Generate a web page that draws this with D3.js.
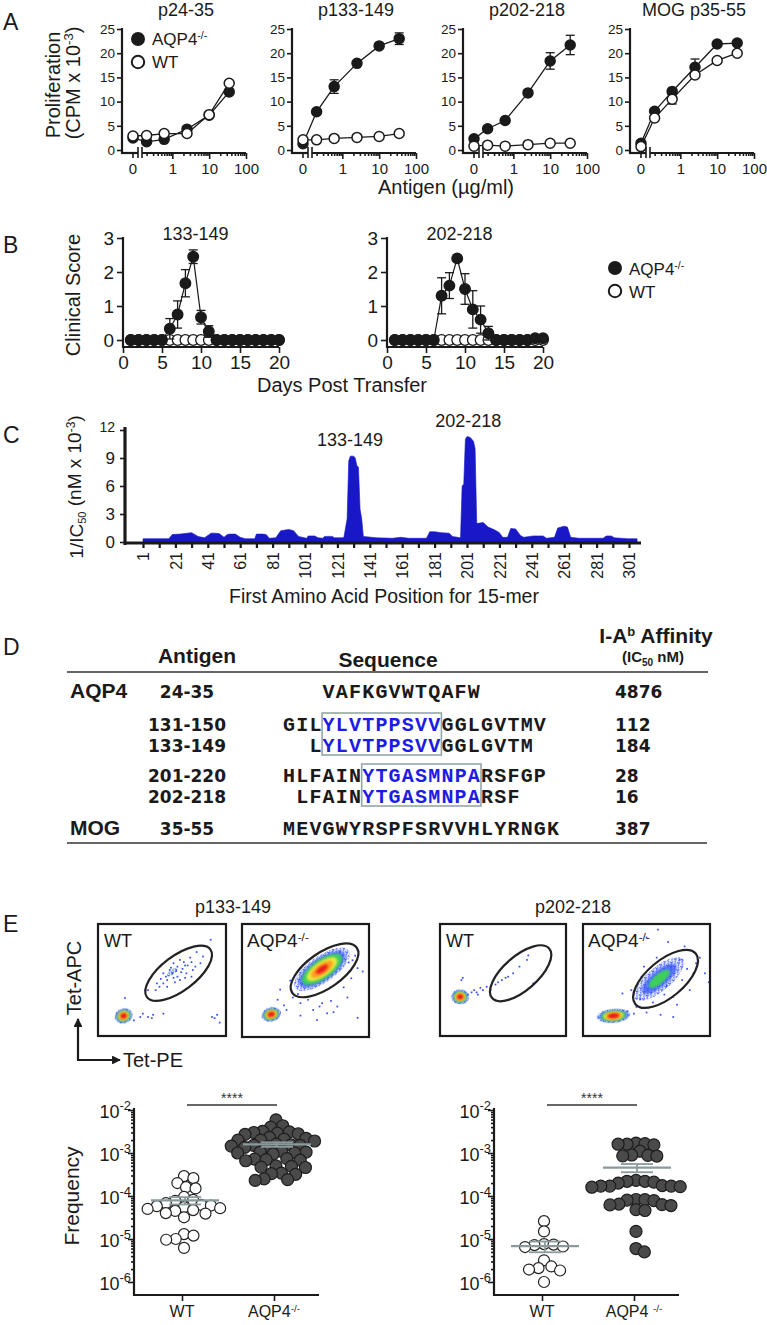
<!DOCTYPE html>
<html>
<head>
<meta charset="utf-8">
<script src="https://cdn.jsdelivr.net/npm/d3@7/dist/d3.min.js"></script>
<style>
  body { margin: 0; background: #fff; }
  svg { display: block; font-family: "Liberation Sans", Arial, Helvetica, sans-serif; color: #1a1a1a; }
</style>
</head>
<body>
<svg width="767" height="1325"></svg>
<script>
// ---------- A: proliferation vs antigen dose ----------
const doses = [0, 0.2, 0.6, 2.5, 10, 35];
const prolifTitles = ["p24-35", "p133-149", "p202-218", "MOG p35-55"];
const prolifKO = [
  [2.5, 1.7, 2.2, 4.3, 7.2, 12.0],
  [1.3, 7.9, 13.1, 17.9, 21.5, 23.0],
  [2.3, 4.4, 6.1, 11.8, 18.4, 21.7],
  [1.4, 8.0, 12.1, 17.1, 21.9, 22.1]
];
const prolifKOErr = [
  [0, 0, 0, 0, 0, 0],
  [0, 0, 1.4, 0, 0, 1.2],
  [0, 0, 0, 0, 1.7, 2.0],
  [0, 0, 0, 1.7, 0, 0]
];
const prolifWT = [
  [2.9, 3.0, 3.4, 3.4, 7.3, 13.8],
  [2.1, 2.1, 2.4, 2.6, 2.8, 3.4],
  [0.8, 1.0, 0.8, 1.1, 1.4, 1.4],
  [0.7, 6.6, 10.5, 15.5, 18.5, 20.0]
];
const prolifWTErr = [
  [0, 0, 0, 0, 0, 0],
  [0, 0, 0, 0, 0, 0],
  [0, 0, 0, 0, 0, 0],
  [0, 0, 1.0, 0, 0, 0]
];

// ---------- B: clinical score ----------
const days = d3.range(1, 21);
const eaeTitles = ["133-149", "202-218"];
const eaeKO = [
  [0, 0, 0, 0, 0, 0.33, 0.75, 1.67, 2.45, 0.67, 0.25, 0, 0, 0, 0, 0, 0, 0, 0, 0],
  [0, 0, 0, 0, 0, 0, 1.3, 1.6, 2.4, 1.5, 0.9, 0.6, 0.2, 0, 0, 0, 0, 0, 0.05, 0.05]
];
const eaeKOErr = [
  [0, 0, 0, 0, 0, 0.3, 0.4, 0.4, 0.2, 0.2, 0.17, 0, 0, 0, 0, 0, 0, 0, 0, 0],
  [0, 0, 0, 0, 0, 0, 0.53, 0.38, 0, 0.45, 0.55, 0.4, 0.2, 0, 0, 0, 0, 0, 0, 0]
];
const eaeWT = [
  [0, 0, 0, 0, 0, 0, 0, 0, 0, 0, 0, 0, 0, 0, 0, 0, 0, 0, 0, 0],
  [0, 0, 0, 0, 0, 0, 0, 0, 0, 0, 0, 0, 0, 0, 0, 0, 0, 0, 0, 0]
];

// ---------- C: predicted binding ----------
const aaPos = [1, 17, 19, 24, 31, 35, 39, 43, 45, 48, 51, 53, 55, 58, 61, 64, 70, 71, 75, 77, 79, 83, 86, 91, 94,
  97, 102, 103, 107, 109, 112, 113, 118, 119, 124, 125, 126, 127, 128, 129, 131, 132, 133, 134, 135, 136, 137,
  145, 155, 160, 165, 176, 178, 181, 185, 190, 192, 197, 198, 199, 200, 201, 203, 205, 206, 207, 208, 211, 214,
  218, 221, 223, 226, 228, 231, 234, 236, 242, 248, 250, 255, 257, 261, 263, 265, 270, 285, 287, 290, 292, 300, 306];
const invIC50 = [0.35, 0.35, 0.8, 0.85, 1.0, 0.6, 0.45, 0.95, 0.95, 0.9, 0.5, 0.8, 0.85, 0.85, 0.5, 0.35, 0.35, 0.85,
  0.85, 0.8, 0.4, 0.45, 1.2, 1.35, 1.2, 0.6, 0.4, 0.65, 0.65, 0.45, 0.4, 0.6, 0.6, 0.45, 0.45, 0.5, 1.5, 2.5, 8.7,
  9.2, 9.2, 9.0, 8.2, 8.0, 3.5, 2.5, 0.6, 0.45, 0.4, 0.5, 0.4, 0.4, 1.1, 1.1, 1.0, 0.95, 0.6, 0.45, 6.0, 6.2, 11.0,
  11.3, 11.2, 10.8, 10.0, 2.0, 2.0, 2.1, 1.6, 1.3, 1.0, 0.5, 0.5, 1.45, 1.4, 0.7, 0.5, 0.65, 0.65, 0.4, 0.5, 1.5,
  1.7, 1.6, 0.5, 0.4, 0.4, 0.65, 0.65, 0.45, 0.35, 0.35];
const peakLabels = [{ label: "133-149", pos: 130, val: 9.2 }, { label: "202-218", pos: 203, val: 11.3 }];

// ---------- D: table ----------
const proteinNames = ["AQP4", "", "", "", "", "MOG"];
const antigenRanges = ["24-35", "131-150", "133-149", "201-220", "202-218", "35-55"];
const sequences = ["VAFKGVWTQAFW", "GILYLVTPPSVVGGLGVTMV", "LYLVTPPSVVGGLGVTM",
  "HLFAINYTGASMNPARSFGP", "LFAINYTGASMNPARSF", "MEVGWYRSPFSRVVHLYRNGK"];
const seqAlign = [3, 0, 2, 0, 1, 0];
const coreEpitopes = ["YLVTPPSVV", "YTGASMNPA"];
const affinities = ["4876", "112", "184", "28", "16", "387"];

// ---------- E: tetramer staining ----------
const tetTitles = ["p133-149", "p202-218"];
const gates = [
  { pe: 63, apc: 56, a: 31, b: 13.5, tilt: -37 },
  { pe: 65, apc: 59, a: 31, b: 14, tilt: -35 },
  { pe: 64, apc: 56, a: 30, b: 13.5, tilt: -41 },
  { pe: 65, apc: 51, a: 31, b: 14.5, tilt: -40 }
];
const populations = [
  [{ pe: 20, apc: 18, sdA: 3.2, sdB: 3.0, tilt: -20, peak: 12 }, { pe: 58, apc: 57, sdA: 6, sdB: 3, tilt: -37, peak: 1.4 }],
  [{ pe: 23, apc: 20, sdA: 3.5, sdB: 2.8, tilt: -15, peak: 12 }, { pe: 63, apc: 60, sdA: 12, sdB: 5.5, tilt: -35, peak: 10 }],
  [{ pe: 16, apc: 35, sdA: 3.2, sdB: 3.0, tilt: 0, peak: 12 }],
  [{ pe: 24, apc: 18, sdA: 6, sdB: 2.8, tilt: -5, peak: 12 }, { pe: 60, apc: 51, sdA: 15, sdB: 6.5, tilt: -40, peak: 3.8 }]
];
const events = [
  [[88, 86], [77, 75], [82, 71], [73, 66], [68, 63], [62, 62], [65, 57], [58, 56], [59, 52], [54, 50], [51, 47], [48, 44],
   [45, 41], [54, 44], [64, 50], [69, 56], [74, 59], [80, 65], [59, 65], [64, 68], [56, 59], [46, 47], [39, 41], [37, 41],
   [62, 53], [68, 52], [73, 53], [51, 56], [33, 17], [39, 17], [43, 19], [51, 20], [35, 20], [42, 16], [28, 14], [21, 34],
   [89, 17], [93, 19], [95, 12], [91, 16], [57, 61], [66, 60], [61, 58], [70, 63], [60, 48], [53, 53], [67, 66], [72, 70],
   [49, 51], [76, 62]],
  [[30, 42], [46, 30], [56, 24], [67, 21], [75, 27], [91, 17], [91, 61], [84, 66], [40, 35], [35, 24], [46, 19], [59, 15],
   [72, 22], [83, 35], [28, 33], [61, 27], [87, 68], [77, 75], [38, 50], [33, 28], [44, 38], [52, 33], [63, 30], [70, 32],
   [80, 44], [86, 52], [89, 72], [95, 58]],
  [[25, 39], [32, 43], [37, 44], [44, 46], [52, 52], [58, 56], [63, 62], [69, 68], [70, 72], [74, 47], [54, 53], [40, 41],
   [29, 39], [17, 50], [18, 52], [22, 37], [34, 41], [46, 48], [27, 41], [30, 37], [49, 50]],
  [[59, 95], [67, 84], [50, 88], [80, 80], [96, 56], [99, 48], [31, 38], [38, 41], [42, 26], [50, 21], [61, 19], [71, 17],
   [71, 35], [84, 41], [87, 56], [46, 53], [53, 44], [69, 62], [76, 68], [89, 65], [35, 22], [40, 20], [45, 33], [55, 30],
   [64, 37], [78, 50], [82, 60], [92, 70], [58, 70], [48, 62], [66, 45], [74, 28]]
];
const freqWT = [
  [2.9e-4, 2.6e-4, 2.0e-4, 1.6e-4, 1.5e-4, 9.5e-5, 8.1e-5, 7.7e-5, 6.8e-5, 6.2e-5, 6.0e-5, 5.8e-5, 5.5e-5, 5.2e-5,
   5.0e-5, 4.7e-5, 4.5e-5, 4.0e-5, 3.9e-5, 3.2e-5, 1.3e-5, 1.2e-5, 1.0e-5, 9.6e-6, 6.2e-6],
  [2.6e-5, 1.5e-5, 7.6e-6, 7.4e-6, 7.2e-6, 6.7e-6, 6.5e-6, 3.2e-6, 2.3e-6, 2.1e-6, 1.95e-6, 1.85e-6, 1.0e-6]
];
const freqKO = [
  [5.9e-3, 4.3e-3, 4.0e-3, 3.1e-3, 3.0e-3, 2.9e-3, 2.8e-3, 3.2e-3, 2.7e-3, 2.2e-3, 2.1e-3, 2.0e-3, 2.0e-3, 1.9e-3,
   2.3e-3, 1.5e-3, 1.5e-3, 1.4e-3, 1.6e-3, 1.45e-3, 1.35e-3, 1.55e-3, 1.05e-3, 1.0e-3, 1.1e-3, 0.95e-3, 1.0e-3,
   1.05e-3, 7.2e-4, 7.0e-4, 6.8e-4, 7.4e-4, 6.6e-4, 4.9e-4, 4.7e-4, 5.0e-4, 4.6e-4, 3.4e-4, 3.3e-4, 3.2e-4,
   2.5e-4, 2.4e-4, 2.3e-4],
  [1.65e-3, 1.6e-3, 1.55e-3, 1.6e-3, 1.7e-3, 1.1e-3, 8.8e-4, 8.6e-4, 9.0e-4, 8.5e-4, 2.3e-4, 2.2e-4, 2.1e-4, 2.2e-4,
   2.0e-4, 1.7e-4, 1.7e-4, 1.65e-4, 1.75e-4, 1.6e-4, 1.7e-4, 8.3e-5, 8.0e-5, 8.2e-5, 7.8e-5, 6.3e-5, 6.0e-5,
   6.2e-5, 6.5e-5, 4.8e-5, 4.6e-5, 1.5e-5, 6.0e-6, 5.0e-6]
];
const freqTicks = [1e-2, 1e-3, 1e-4, 1e-5, 1e-6];

// ================= drawing =================
const ink = "#1a1a1a";
const svg = d3.select("svg");
svg.append("rect").attr("width", 767).attr("height", 1325).attr("fill", "#fff");
const defs = svg.append("defs");
defs.append("filter").attr("id", "soft").attr("x", "-50%").attr("y", "-50%").attr("width", "200%").attr("height", "200%")
  .append("feGaussianBlur").attr("stdDeviation", 0.9);
defs.append("marker").attr("id", "arrow").attr("viewBox", "0 -5 10 10").attr("refX", 9).attr("refY", 0)
  .attr("markerWidth", 4).attr("markerHeight", 4).attr("orient", "auto")
  .append("path").attr("d", "M0,-5L10,0L0,5Z").attr("fill", ink);
// speckle texture for sparse event regions
const speck = defs.append("pattern").attr("id", "speck").attr("width", 5).attr("height", 5).attr("patternUnits", "userSpaceOnUse");
[[0, 0], [2.6, 1.2], [1.2, 3.1], [3.8, 3.6], [4.1, 0.2]].forEach(([x, y]) =>
  speck.append("rect").attr("x", x).attr("y", y).attr("width", 1.4).attr("height", 1.4).attr("fill", "#2f4cff"));

function text(g, x, y, str, size, opts = {}) {
  const t = g.append("text").attr("x", x).attr("y", y).attr("font-size", size)
    .attr("text-anchor", opts.anchor || "start").attr("fill", opts.fill || ink);
  if (opts.weight) t.attr("font-weight", opts.weight);
  if (opts.family) t.attr("font-family", opts.family);
  if (opts.rotate) t.attr("transform", `rotate(${opts.rotate},${x},${y})`);
  if (str) t.text(str);
  return t;
}
function span(t, str, size, dy) {
  const s = t.append("tspan").text(str);
  if (size) s.attr("font-size", size);
  if (dy) s.attr("dy", dy);
  return s;
}
function styleAxis(sel, fs) {
  sel.attr("font-family", null).attr("font-size", fs);
  sel.select(".domain").remove();
  sel.selectAll(".tick line").attr("stroke", ink).attr("stroke-width", 1.6);
  sel.selectAll(".tick text").attr("fill", ink);
}
function hline(g, x1, x2, y, w, c) {
  g.append("line").attr("x1", x1).attr("x2", x2).attr("y1", y).attr("y2", y).attr("stroke", c || ink).attr("stroke-width", w);
}
function vline(g, x, y1, y2, w, c) {
  g.append("line").attr("x1", x).attr("x2", x).attr("y1", y1).attr("y2", y2).attr("stroke", c || ink).attr("stroke-width", w);
}
function errBar(g, x, yLo, yHi, cap) {
  vline(g, x, yLo, yHi, 1.3);
  hline(g, x - cap, x + cap, yLo, 1.3);
  hline(g, x - cap, x + cap, yHi, 1.3);
}
function koLabel(t, sep) {
  span(t, "AQP4" + (sep || ""));
  span(t, "-/-", "0.62em", "-0.55em");
}

// panel letters
[["A", 30], ["B", 253], ["C", 443], ["D", 655], ["E", 932]].forEach(([l, y]) => text(svg, 3, y, l, 23));

// ---------- Panel A ----------
const aAxisX = [122, 292, 463, 630];
const aY = d3.scaleLinear().domain([0, 25]).range([150, 29]);
const aXLog = d3.scaleLog().domain([0.15, 100]).range([20, 124]);
const aXPos = d => d === 0 ? 11 : aXLog(d);
const aBase = 153;

prolifTitles.forEach((title, i) => {
  const g = svg.append("g").attr("transform", `translate(${aAxisX[i]},0)`);
  text(g, 64, 16, title, 18, { anchor: "middle" });
  g.append("g").call(d3.axisLeft(aY).tickValues(d3.range(0, 26, 5)).tickSize(5).tickPadding(2).tickSizeOuter(0))
    .call(styleAxis, 13.5);
  vline(g, 0, aY(25) - 1, aBase + 1, 2.2);
  hline(g, -1, 16, aBase, 2.2);
  hline(g, 20, 124, aBase, 2.2);
  vline(g, 16, aBase - 6, aBase + 5, 1.6);
  vline(g, 20, aBase - 6, aBase + 5, 1.6);
  const major = [1, 10, 100];
  const xa = g.append("g").attr("transform", `translate(0,${aBase})`);
  xa.call(d3.axisBottom(aXLog).tickValues(major).tickSize(6).tickPadding(4).tickFormat(d3.format("d")).tickSizeOuter(0))
    .call(styleAxis, 15);
  const xm = g.append("g").attr("transform", `translate(0,${aBase})`);
  xm.call(d3.axisBottom(aXLog).tickValues(aXLog.ticks().filter(t => !major.includes(t))).tickSize(3).tickFormat("").tickSizeOuter(0))
    .call(styleAxis, 15);
  vline(g, aXPos(0), aBase, aBase + 5, 1.6);
  text(g, aXPos(0), aBase + 21, "0", 15, { anchor: "middle" });

  const line = d3.line().x((d, j) => aXPos(doses[j])).y(d => aY(d));
  [[prolifKO[i], prolifKOErr[i], true], [prolifWT[i], prolifWTErr[i], false]].forEach(([vals, errs, filled]) => {
    g.append("path").attr("d", line(vals)).attr("fill", "none").attr("stroke", ink).attr("stroke-width", 1.3);
    vals.forEach((v, j) => { if (errs[j]) errBar(g, aXPos(doses[j]), aY(v - errs[j]), aY(v + errs[j]), 4.5); });
    g.selectAll(null).data(vals).join("circle")
      .attr("cx", (d, j) => aXPos(doses[j])).attr("cy", d => aY(d)).attr("r", 5)
      .attr("fill", filled ? ink : "#fff").attr("stroke", ink).attr("stroke-width", 1.5);
  });
});
{
  const t1 = text(svg, 60, 85, null, 20, { anchor: "middle", rotate: -90 });
  span(t1, "Proliferation");
  const t2 = text(svg, 80, 83, null, 20, { anchor: "middle", rotate: -90 });
  span(t2, "(CPM x 10");
  span(t2, "-3", 13, "-0.55em");
  span(t2, ")", 20, "0.36em");
  text(svg, 446, 194, "Antigen (\u00b5g/ml)", 20, { anchor: "middle" });
  svg.append("circle").attr("cx", 138).attr("cy", 39).attr("r", 7).attr("fill", ink);
  svg.append("circle").attr("cx", 138).attr("cy", 62).attr("r", 6.2).attr("fill", "#fff").attr("stroke", ink).attr("stroke-width", 2);
  koLabel(text(svg, 152, 45, null, 17));
  text(svg, 152, 68, "WT", 17);
}

// ---------- Panel B ----------
const bAxisX = [123, 387];
const bY = d3.scaleLinear().domain([0, 3]).range([340, 238]);
const bBase = 347;
eaeTitles.forEach((title, i) => {
  const bX = d3.scaleLinear().domain([0, 20]).range([bAxisX[i], bAxisX[i] + 156]);
  const g = svg.append("g");
  text(g, bX(9.3), 240, title, 18, { anchor: "middle" });
  g.append("g").attr("transform", `translate(${bAxisX[i]},0)`)
    .call(d3.axisLeft(bY).tickValues([0, 1, 2, 3]).tickFormat(d3.format("d")).tickSize(6).tickPadding(3).tickSizeOuter(0))
    .call(styleAxis, 19);
  g.append("g").attr("transform", `translate(0,${bBase})`)
    .call(d3.axisBottom(bX).tickValues([0, 5, 10, 15, 20]).tickSize(6).tickPadding(3).tickSizeOuter(0)).call(styleAxis, 19);
  vline(g, bAxisX[i], bY(3) - 1, bBase + 1, 2.2);
  hline(g, bAxisX[i] - 1, bX(20), bBase, 2.2);
  const line = d3.line().x((d, j) => bX(days[j])).y(d => bY(d));
  [[eaeWT[i], null, false], [eaeKO[i], eaeKOErr[i], true]].forEach(([vals, errs, filled]) => {
    g.append("path").attr("d", line(vals)).attr("fill", "none").attr("stroke", ink).attr("stroke-width", 1.2);
    if (errs) vals.forEach((v, j) => { if (errs[j]) errBar(g, bX(days[j]), bY(v - errs[j]), bY(v + errs[j]), 4.5); });
    g.selectAll(null).data(vals).join("circle")
      .attr("cx", (d, j) => bX(days[j])).attr("cy", d => bY(d)).attr("r", 5.3)
      .attr("fill", filled ? ink : "#fff").attr("stroke", ink).attr("stroke-width", 1.3);
  });
});
text(svg, 80, 295, "Clinical Score", 20, { anchor: "middle", rotate: -90 });
text(svg, 342, 392, "Days Post Transfer", 20, { anchor: "middle" });
svg.append("circle").attr("cx", 615).attr("cy", 268).attr("r", 7).attr("fill", ink);
svg.append("circle").attr("cx", 615).attr("cy", 291).attr("r", 6.2).attr("fill", "#fff").attr("stroke", ink).attr("stroke-width", 2);
koLabel(text(svg, 629, 275, null, 17));
text(svg, 629, 298, "WT", 17);

// ---------- Panel C ----------
{
  const cX = d3.scaleLinear().domain([1, 301]).range([143, 629]);
  const cY = d3.scaleLinear().domain([0, 12]).range([542, 430]);
  const g = svg.append("g");
  g.append("path").datum(aaPos.map((p, i) => [p, invIC50[i]]))
    .attr("d", d3.area().x(d => cX(d[0])).y0(cY(0)).y1(d => cY(d[1])))
    .attr("fill", "#1818c8").attr("stroke", "#1818c8").attr("stroke-width", 0.6);
  const ya = g.append("g").attr("transform", "translate(125,0)")
    .call(d3.axisLeft(cY).tickValues([0, 3, 6, 9, 12]).tickSize(5).tickPadding(5).tickSizeOuter(0)).call(styleAxis, 17);
  ya.selectAll(".tick text").filter(d => d === 12).attr("font-size", 14).attr("dy", "0.1em");
  const xa = g.append("g").attr("transform", "translate(0,544)")
    .call(d3.axisBottom(cX).tickValues(d3.range(1, 302, 10)).tickSize(4).tickSizeOuter(0)
      .tickFormat(d => (d - 1) % 20 === 0 ? d : "")).call(styleAxis, 16);
  xa.selectAll(".tick line").attr("stroke-width", 2.2);
  xa.selectAll(".tick text").attr("transform", "rotate(-90)").attr("text-anchor", "end")
    .attr("x", -8).attr("y", 0).attr("dy", "0.36em");
  vline(g, 125, 427, 545, 3.2);
  hline(g, 124, 641, 543, 3.2);
  peakLabels.forEach(p => text(g, cX(p.pos) - 2, cY(p.val) - 10, p.label, 18, { anchor: "middle" }));
  const t = text(g, 83, 487, null, 19, { anchor: "middle", rotate: -90 });
  span(t, "1/IC");
  span(t, "50", 11, "0.3em");
  span(t, " (nM x 10", 19, "-0.3em");
  span(t, "-3", 12, "-0.5em");
  span(t, ")", 19, "0.32em");
  text(g, 384, 603, "First Amino Acid Position for 15-mer", 19.5, { anchor: "middle" });
}

// ---------- Panel D ----------
{
  const g = svg.append("g");
  const head = { weight: "bold", anchor: "middle" };
  text(g, 197, 663, "Antigen", 21, head);
  text(g, 388, 667, "Sequence", 21, head);
  const t1 = text(g, 656, 643, null, 21, head);
  span(t1, "I-A");
  span(t1, "b", 13, "-0.55em");
  span(t1, " Affinity", 21, "0.34em");
  const t2 = text(g, 653, 662, null, 15, head);
  span(t2, "(IC");
  span(t2, "50", 10, "0.35em");
  span(t2, " nM)", 15, "-0.24em");
  hline(g, 67, 708, 672, 1.6, "#333");
  hline(g, 67, 707, 843, 1.6, "#333");

  const rowY = [698, 731, 752, 782, 803, 835];
  const seqX0 = 283, charW = 13.2, seqSize = 20;
  const mono = "'Liberation Mono', 'Courier New', monospace";
  const numFont = "'DejaVu Sans', Verdana, sans-serif";
  const coreBoxes = coreEpitopes.map(() => ({ col: null, rows: [] }));
  sequences.forEach((seq, i) => {
    if (proteinNames[i]) text(g, 70, rowY[i], proteinNames[i], 21, { weight: "bold" });
    text(g, 187, rowY[i], antigenRanges[i], 17, { weight: "bold", anchor: "middle", family: numFont });
    text(g, 615, rowY[i], affinities[i], 17, { weight: "bold", family: numFont });
    const t = text(g, seqX0 + seqAlign[i] * charW, rowY[i], null, seqSize, { weight: "bold", family: mono })
      .attr("letter-spacing", charW - 0.6 * seqSize);
    const ci = coreEpitopes.findIndex(c => seq.includes(c));
    if (ci < 0) { span(t, seq); return; }
    const k = seq.indexOf(coreEpitopes[ci]);
    span(t, seq.slice(0, k));
    span(t, coreEpitopes[ci]).attr("fill", "#1c1ce6");
    span(t, seq.slice(k + coreEpitopes[ci].length));
    coreBoxes[ci].col = seqAlign[i] + k;
    coreBoxes[ci].rows.push(i);
  });
  coreBoxes.forEach((b, ci) => {
    const y1 = rowY[b.rows[0]] - 18, y2 = rowY[b.rows[b.rows.length - 1]] + 3;
    g.append("rect").attr("x", seqX0 + b.col * charW - 0.5).attr("y", y1)
      .attr("width", coreEpitopes[ci].length * charW + 0.5).attr("height", y2 - y1)
      .attr("fill", "none").attr("stroke", "#93a6a8").attr("stroke-width", 1.6);
  });
}

// ---------- Panel E: flow plots ----------
const densityFills = ["url(#speck)", "#3050ff", "#3ccf5a", "#ece93a", "#ff9d22", "#e8141c"];
const densityLevels = [1, 2, 3, 5, 7, 9];
const flowBoxes = [[98, 924, 128, 112], [242, 924, 127, 113], [440, 924, 126, 112], [583, 924, 127, 112]];
flowBoxes.forEach(([bx, by, bw, bh], i) => {
  const xs = d3.scaleLinear().domain([0, 100]).range([bx, bx + bw]);
  const ys = d3.scaleLinear().domain([0, 100]).range([by + bh, by]);
  const kx = xs(1) - xs(0), ky = ys(0) - ys(1);
  defs.append("clipPath").attr("id", "fc" + i).append("rect").attr("x", bx).attr("y", by).attr("width", bw).attr("height", bh);
  const g = svg.append("g").attr("clip-path", `url(#fc${i})`);
  g.selectAll(null).data(events[i]).join("rect")
    .attr("x", d => xs(d[0]) - 0.8).attr("y", d => ys(d[1]) - 0.8).attr("width", 1.7).attr("height", 1.7).attr("fill", "#2f4cff");
  populations[i].forEach(p => {
    densityLevels.forEach((lv, k) => {
      if (p.peak <= lv) return;
      const s = Math.sqrt(2 * Math.log(p.peak / lv));
      const e = g.append("ellipse").attr("transform", `translate(${xs(p.pe)},${ys(p.apc)}) rotate(${p.tilt})`)
        .attr("rx", p.sdA * kx * s).attr("ry", p.sdB * ky * s).attr("fill", densityFills[k]);
      if (k > 0) e.attr("filter", "url(#soft)").attr("opacity", k === 1 ? 0.75 : 1);
    });
  });
  const gt = gates[i];
  svg.append("ellipse").attr("transform", `translate(${xs(gt.pe)},${ys(gt.apc)}) rotate(${gt.tilt})`)
    .attr("rx", gt.a * kx).attr("ry", gt.b * kx).attr("fill", "none").attr("stroke", "#222").attr("stroke-width", 2.2);
  svg.append("rect").attr("x", bx).attr("y", by).attr("width", bw).attr("height", bh)
    .attr("fill", "none").attr("stroke", ink).attr("stroke-width", 2.2);
  if (i % 2 === 0) text(svg, bx + 6, 947, "WT", 18);
  else koLabel(text(svg, bx + 5, 947, null, 19));
});
text(svg, 233, 913, tetTitles[0], 18, { anchor: "middle" });
text(svg, 573, 913, tetTitles[1], 18, { anchor: "middle" });
svg.append("path").attr("d", "M78,1061V1019").attr("stroke", ink).attr("stroke-width", 2.2).attr("marker-end", "url(#arrow)");
svg.append("path").attr("d", "M77,1060H120").attr("stroke", ink).attr("stroke-width", 2.2).attr("marker-end", "url(#arrow)");
text(svg, 81, 978, "Tet-APC", 20, { anchor: "middle", rotate: -90 });
text(svg, 123, 1067, "Tet-PE", 20);

// ---------- Panel E: frequency scatter ----------
const eY = d3.scaleLog().domain([1e-6, 1e-2]).range([1282, 1110]);
function swarm(values, r, cx) {
  const pts = values.map(v => ({ v, y: eY(v) })).sort((a, b) => a.y - b.y);
  const placed = [];
  pts.forEach(p => {
    const near = placed.filter(q => Math.abs(q.y - p.y) < 2 * r);
    const cands = [0];
    near.forEach(q => {
      const dx = Math.sqrt(4 * r * r - (q.y - p.y) ** 2);
      cands.push(q.dx + dx, q.dx - dx);
    });
    cands.sort((a, b) => Math.abs(a) - Math.abs(b));
    p.dx = cands.find(c => near.every(q => (q.dx - c) ** 2 + (q.y - p.y) ** 2 >= 4 * r * r - 0.01));
    placed.push(p);
  });
  return pts.map(p => ({ x: cx + p.dx, y: p.y }));
}
[134, 494].forEach((x0, i) => {
  const g = svg.append("g");
  const cats = { WT: x0 + 48, KO: x0 + 140 };
  g.append("g").attr("transform", `translate(${x0},0)`)
    .call(d3.axisLeft(eY).tickValues(freqTicks).tickSize(6).tickPadding(3).tickSizeOuter(0).tickFormat(""))
    .call(styleAxis, 18);
  const minor = [];
  freqTicks.slice(1).forEach(t => d3.range(2, 10).forEach(m => minor.push(t * m)));
  g.append("g").attr("transform", `translate(${x0},0)`)
    .call(d3.axisLeft(eY).tickValues(minor).tickSize(3).tickFormat("").tickSizeOuter(0)).call(styleAxis, 18);
  freqTicks.forEach(t => {
    const lab = text(g, x0 - 3, eY(t) + 8, null, 18, { anchor: "end" });
    span(lab, "10");
    span(lab, String(Math.round(Math.log10(t))), 13, "-0.62em");
  });
  vline(g, x0, 1108, 1296, 2.2);
  hline(g, x0 - 1, x0 + 185, 1295, 2.2);
  g.append("g").attr("transform", "translate(0,1295)")
    .call(d3.axisBottom(d3.scaleOrdinal().domain(["WT", "KO"]).range([cats.WT, cats.KO]))
      .tickSize(6).tickFormat("").tickSizeOuter(0)).call(styleAxis, 16);
  text(g, cats.WT, 1317, "WT", 16, { anchor: "middle" });
  koLabel(text(g, cats.KO, 1317, null, 16, { anchor: "middle" }), i === 1 ? " " : "");

  [[freqWT[i], "WT", false], [freqKO[i], "KO", true]].forEach(([vals, key, filled]) => {
    const r = filled ? 6 : 5.5;
    const pts = swarm(vals, filled ? 4.5 : 4.8, cats[key] + 2);
    g.selectAll(null).data(pts).join("circle")
      .attr("cx", d => d.x).attr("cy", d => d.y).attr("r", r)
      .attr("fill", filled ? "#4a4a4a" : "#fff").attr("stroke", filled ? "#1e1e1e" : "#222").attr("stroke-width", 1.2);
    const m = d3.mean(vals), sem = d3.deviation(vals) / Math.sqrt(vals.length);
    const c = cats[key] + 3;
    hline(g, c - 34, c + 34, eY(m), 2.2, "#8a9a9a");
    vline(g, c, eY(m + sem), eY(m - sem), 1.8, "#8a9a9a");
    hline(g, c - 16, c + 16, eY(m + sem), 1.8, "#8a9a9a");
    hline(g, c - 16, c + 16, eY(m - sem), 1.8, "#8a9a9a");
  });
  hline(g, cats.WT + 5, cats.KO + 3, 1105, 1.3, "#333");
  text(g, (cats.WT + cats.KO) / 2 + 4, 1103, "****", 14, { anchor: "middle", fill: "#333" });
});
text(svg, 79, 1196, "Frequency", 21, { anchor: "middle", rotate: -90 });
</script>
</body>
</html>
